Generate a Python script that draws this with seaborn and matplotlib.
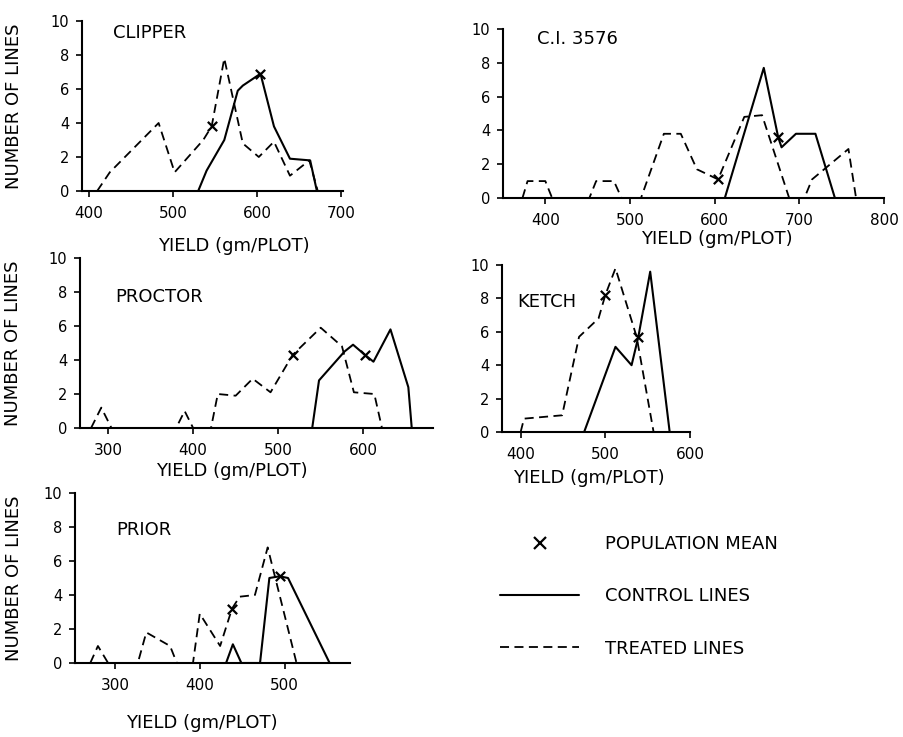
import matplotlib
matplotlib.use('Agg')
import matplotlib.pyplot as plt
import seaborn as sns
from matplotlib.lines import Line2D

sns.set_theme(style='ticks')
plt.rcParams['font.family'] = ['DejaVu Sans']
plt.rcParams['text.color'] = 'black'
plt.rcParams['axes.labelcolor'] = 'black'
plt.rcParams['xtick.color'] = 'black'
plt.rcParams['ytick.color'] = 'black'

# 数据：每个品种的处理系 (虚线) 与对照系 (实线)，x = 产量, y = 系数
clipper_treated_x = [410, 425, 483, 502, 536, 546, 561, 583, 602, 620, 639, 662, 672]
clipper_treated_y = [0, 1.1, 4.0, 1.1, 3.0, 3.8, 7.8, 2.8, 2.0, 2.9, 0.9, 1.8, 0]
clipper_control_x = [530, 540, 561, 577, 583, 604, 620, 639, 663, 671]
clipper_control_y = [0, 1.2, 3.0, 5.9, 6.2, 6.9, 3.8, 1.9, 1.8, 0]
clipper_mean_x = [546, 604]
clipper_mean_y = [3.8, 6.9]

ci_treated_x = [373, 379, 400, 408, 452, 460, 481, 490, 513, 540, 560, 579, 604,
                635, 656, 688, 706, 715, 758, 767]
ci_treated_y = [0, 1, 1, 0, 0, 1, 1, 0, 0, 3.8, 3.8, 1.7, 1.1,
                4.8, 4.9, 0, 0, 1.1, 2.9, 0]
ci_control_x = [612, 658, 675, 679, 696, 719, 742]
ci_control_y = [0, 7.7, 3.6, 3.0, 3.8, 3.8, 0]
ci_mean_x = [604, 675]
ci_mean_y = [1.1, 3.6]

proctor_treated_x = [280, 292, 304, 380, 390, 400, 421, 429, 450, 470, 491, 517,
                     550, 575, 589, 613, 622]
proctor_treated_y = [0, 1.2, 0, 0, 1.0, 0, 0, 2.0, 1.9, 2.9, 2.1, 4.3,
                     5.9, 4.8, 2.1, 2.0, 0]
proctor_control_x = [540, 548, 578, 588, 602, 612, 632, 653, 657]
proctor_control_y = [0, 2.8, 4.5, 4.9, 4.3, 3.9, 5.8, 2.4, 0]
proctor_mean_x = [517, 602]
proctor_mean_y = [4.3, 4.3]

ketch_treated_x = [400, 404, 449, 469, 492, 500, 512, 537, 557]
ketch_treated_y = [0, 0.8, 1.0, 5.7, 6.8, 8.2, 9.8, 5.7, 0]
ketch_control_x = [475, 512, 531, 539, 553, 576]
ketch_control_y = [0, 5.1, 4.0, 5.7, 9.6, 0]
ketch_mean_x = [500, 539]
ketch_mean_y = [8.2, 5.7]

prior_treated_x = [271, 280, 292, 327, 337, 365, 373, 392, 400, 424, 438, 447,
                   465, 480, 514]
prior_treated_y = [0, 1.0, 0, 0, 1.8, 1.0, 0, 0, 2.9, 1.0, 3.2, 3.9,
                   4.0, 6.8, 0]
prior_control_x = [431, 439, 449, 471, 482, 494, 504, 553]
prior_control_y = [0, 1.1, 0, 0, 5.0, 5.1, 5.0, 0]
prior_mean_x = [438, 494]
prior_mean_y = [3.2, 5.1]

y_ticks = [0, 2, 4, 6, 8, 10]
x_label = 'YIELD (gm/PLOT)'
y_label = 'NUMBER OF LINES'
legend_labels = ['POPULATION MEAN', 'CONTROL LINES', 'TREATED LINES']

# 各子图：名称、数据、位置 (像素)、坐标范围
panels = [
    dict(name='CLIPPER', tx=clipper_treated_x, ty=clipper_treated_y,
         cx=clipper_control_x, cy=clipper_control_y, mx=clipper_mean_x, my=clipper_mean_y,
         box=(82, 21, 343, 191), xlim=(392, 702), xticks=[400, 500, 600, 700],
         name_pos=(0.12, 0.93), ylab=-0.225, xlab=(0.58, -0.27)),
    dict(name='C.I. 3576', tx=ci_treated_x, ty=ci_treated_y,
         cx=ci_control_x, cy=ci_control_y, mx=ci_mean_x, my=ci_mean_y,
         box=(503, 29, 884, 198), xlim=(350, 800), xticks=[400, 500, 600, 700, 800],
         name_pos=(0.09, 0.94), ylab=None, xlab=(0.56, -0.19)),
    dict(name='PROCTOR', tx=proctor_treated_x, ty=proctor_treated_y,
         cx=proctor_control_x, cy=proctor_control_y, mx=proctor_mean_x, my=proctor_mean_y,
         box=(80, 258, 433, 428), xlim=(267, 682), xticks=[300, 400, 500, 600],
         name_pos=(0.10, 0.77), ylab=-0.165, xlab=(0.43, -0.2)),
    dict(name='KETCH', tx=ketch_treated_x, ty=ketch_treated_y,
         cx=ketch_control_x, cy=ketch_control_y, mx=ketch_mean_x, my=ketch_mean_y,
         box=(502, 265, 690, 432), xlim=(378, 600), xticks=[400, 500, 600],
         name_pos=(0.08, 0.78), ylab=None, xlab=(0.46, -0.22)),
    dict(name='PRIOR', tx=prior_treated_x, ty=prior_treated_y,
         cx=prior_control_x, cy=prior_control_y, mx=prior_mean_x, my=prior_mean_y,
         box=(75, 493, 350, 663), xlim=(253, 577), xticks=[300, 400, 500],
         name_pos=(0.15, 0.78), ylab=-0.19, xlab=(0.46, -0.3)),
]

W, H = 904, 737
fig = plt.figure(figsize=(W / 100, H / 100), dpi=100)

for p in panels:
    x0, y0, x1, y1 = p['box']
    ax = fig.add_axes([x0 / W, 1 - y1 / H, (x1 - x0) / W, (y1 - y0) / H])
    sns.lineplot(x=p['tx'], y=p['ty'], ax=ax, color='black', lw=1.3,
                 linestyle=(0, (5, 3)), estimator=None, sort=False)
    sns.lineplot(x=p['cx'], y=p['cy'], ax=ax, color='black', lw=1.5,
                 estimator=None, sort=False)
    sns.scatterplot(x=p['mx'], y=p['my'], ax=ax, marker='x', color='black',
                    s=45, linewidth=1.6, zorder=5)
    ax.set_xlim(*p['xlim'])
    ax.set_ylim(0, 10)
    ax.set_xticks(p['xticks'])
    ax.set_yticks(y_ticks)
    ax.tick_params(axis='x', direction='out', length=4, width=1.2, labelsize=11, pad=7)
    ax.tick_params(axis='y', direction='out', length=4, width=1.2, labelsize=10.5, pad=5)
    sns.despine(ax=ax)
    for s in ['left', 'bottom']:
        ax.spines[s].set_linewidth(1.5)
        ax.spines[s].set_color('black')
    ax.text(p['name_pos'][0], p['name_pos'][1], p['name'], transform=ax.transAxes,
            fontsize=13, ha='left', va='center')
    ax.set_xlabel(x_label, fontsize=13)
    ax.xaxis.set_label_coords(*p['xlab'])
    if p['ylab'] is not None:
        ax.set_ylabel(y_label, fontsize=13)
        ax.yaxis.set_label_coords(p['ylab'], 0.5)
    else:
        ax.set_ylabel('')

# 图例
handles = [Line2D([], [], color='black', marker='x', linestyle='none', markersize=9,
                  markeredgewidth=1.6),
           Line2D([], [], color='black', lw=1.5),
           Line2D([], [], color='black', lw=1.3, linestyle=(0, (5, 3)))]
fig.legend(handles, legend_labels, loc='upper left', bbox_to_anchor=(500 / W, 1 - 535 / H),
           frameon=False, fontsize=13, handlelength=4.4, handletextpad=1.4,
           labelspacing=1.9, borderpad=0, borderaxespad=0)

fig.savefig('out.png', dpi=100, facecolor='white')
